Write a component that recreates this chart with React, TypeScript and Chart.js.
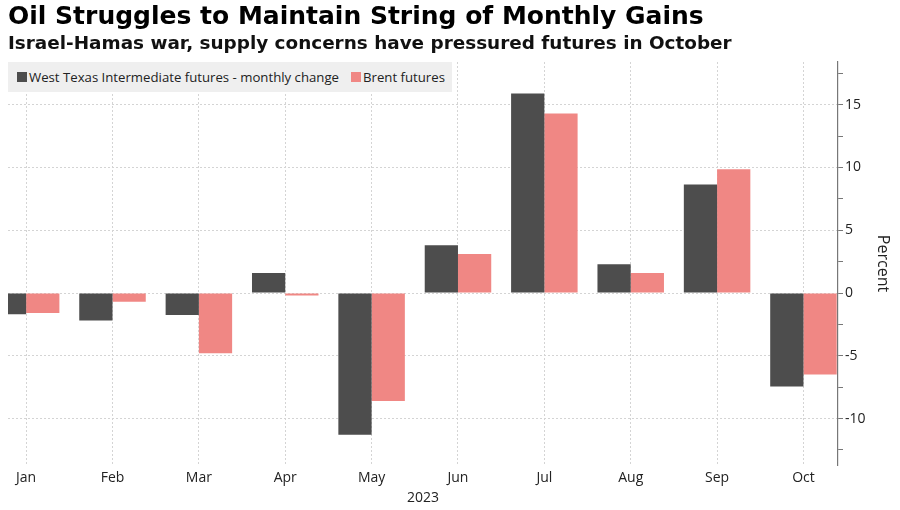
import React, { useEffect, useRef } from "react";
import { Chart, registerables } from "chart.js";

Chart.register(...registerables);

const months = ["Jan", "Feb", "Mar", "Apr", "May", "Jun", "Jul", "Aug", "Sep", "Oct"];
const wtiValues = [-1.7, -2.2, -1.75, 1.6, -11.3, 3.8, 15.9, 2.3, 8.65, -7.45];
const brentValues = [-1.6, -0.7, -4.8, -0.2, -8.6, 3.1, 14.3, 1.6, 9.85, -6.5];
const yLabelTicks = [-10, -5, 0, 5, 10, 15];

const WTI_COLOR = "#4d4d4d";
const BRENT_COLOR = "#f08784";
const FONT = "'Open Sans', 'DejaVu Sans', sans-serif";

export default function App() {
  const ref = useRef<HTMLCanvasElement | null>(null);

  useEffect(() => {
    if (!ref.current) return;
    const chart = new Chart(ref.current, {
      type: "bar",
      data: {
        datasets: [
          {
            label: "West Texas Intermediate futures - monthly change",
            data: wtiValues.map((v, i) => ({ x: i, y: v })),
            backgroundColor: WTI_COLOR,
            categoryPercentage: 0.77,
            barPercentage: 1,
          },
          {
            label: "Brent futures",
            data: brentValues.map((v, i) => ({ x: i, y: v })),
            backgroundColor: BRENT_COLOR,
            categoryPercentage: 0.77,
            barPercentage: 1,
          },
        ],
      },
      options: {
        responsive: false,
        animation: false,
        layout: { padding: { left: 8, top: 62, right: 4, bottom: 0 } },
        plugins: {
          legend: { display: false },
          tooltip: { enabled: false },
          title: { display: false },
        },
        scales: {
          x: {
            type: "linear",
            min: -0.21,
            max: 9.4,
            offset: false,
            afterFit: (s: any) => {
              s.height = 45;
            },
            ticks: {
              stepSize: 1,
              includeBounds: false,
              autoSkip: false,
              maxRotation: 0,
              padding: 5,
              color: "#222",
              font: { family: FONT, size: 14 },
              callback: (v: any) => (Number.isInteger(v) && months[v] !== undefined ? months[v] : ""),
            },
            grid: {
              offset: false,
              color: "#d4d4d4",
              lineWidth: 1,
              drawTicks: false,
              tickLength: 0,
            },
            border: { display: false, dash: [2, 2] },
            title: {
              display: true,
              text: "2023",
              color: "#222",
              font: { family: FONT, size: 14 },
              padding: { top: 2, bottom: 4 },
            },
          },
          y: {
            type: "linear",
            position: "right",
            min: -13.7,
            max: 18.4,
            afterFit: (s: any) => {
              s.width = 58;
            },
            afterBuildTicks: (s: any) => {
              const t: any[] = [];
              for (let v = -12.5; v <= 17.5; v += 2.5) t.push({ value: v });
              s.ticks = t;
            },
            ticks: {
              padding: 2,
              color: "#222",
              font: { family: FONT, size: 14 },
              callback: (v: any) => (yLabelTicks.includes(v) ? String(v) : ""),
            },
            grid: {
              color: (ctx: any) => (ctx.tick && yLabelTicks.includes(ctx.tick.value) ? "#d4d4d4" : "rgba(0,0,0,0)"),
              tickColor: "#777",
              tickLength: 5,
              tickBorderDash: [],
              lineWidth: 1,
            },
            border: { display: true, color: "#777", width: 1.2, dash: [2, 2] },
            title: {
              display: true,
              text: "Percent",
              color: "#222",
              font: { family: FONT, size: 16 },
              padding: { top: 4, bottom: 4 },
            },
          },
        },
      },
    });
    return () => chart.destroy();
  }, []);

  const legendItem = (color: string, text: string, mr: number) => (
    <span style={{ display: "inline-flex", alignItems: "center", marginRight: mr }}>
      <span style={{ width: 10, height: 10, background: color, display: "inline-block", marginRight: 2 }} />
      <span>{text}</span>
    </span>
  );

  return (
    <div style={{ position: "absolute", left: 0, top: 0, width: 900, height: 510, background: "#fff", overflow: "hidden" }}>
      <canvas ref={ref} width={900} height={510} style={{ position: "absolute", left: 0, top: 0 }} />
      <div
        style={{
          position: "absolute",
          left: 8,
          top: 1,
          fontFamily: "'DejaVu Sans', sans-serif",
          fontWeight: 700,
          fontSize: 25,
          color: "#000",
          whiteSpace: "nowrap",
        }}
      >
        Oil Struggles to Maintain String of Monthly Gains
      </div>
      <div
        style={{
          position: "absolute",
          left: 8,
          top: 32,
          fontFamily: "'DejaVu Sans', sans-serif",
          fontWeight: 700,
          fontSize: 18.4,
          color: "#111",
          whiteSpace: "nowrap",
        }}
      >
        Israel-Hamas war, supply concerns have pressured futures in October
      </div>
      <div
        style={{
          position: "absolute",
          left: 8,
          top: 62,
          width: 444,
          height: 30,
          background: "#efefef",
          display: "flex",
          alignItems: "center",
          paddingLeft: 9,
          boxSizing: "border-box",
          fontFamily: FONT,
          fontSize: 13.2,
          color: "#222",
          whiteSpace: "nowrap",
        }}
      >
        {legendItem(WTI_COLOR, "West Texas Intermediate futures - monthly change", 12)}
        {legendItem(BRENT_COLOR, "Brent futures", 0)}
      </div>
    </div>
  );
}
